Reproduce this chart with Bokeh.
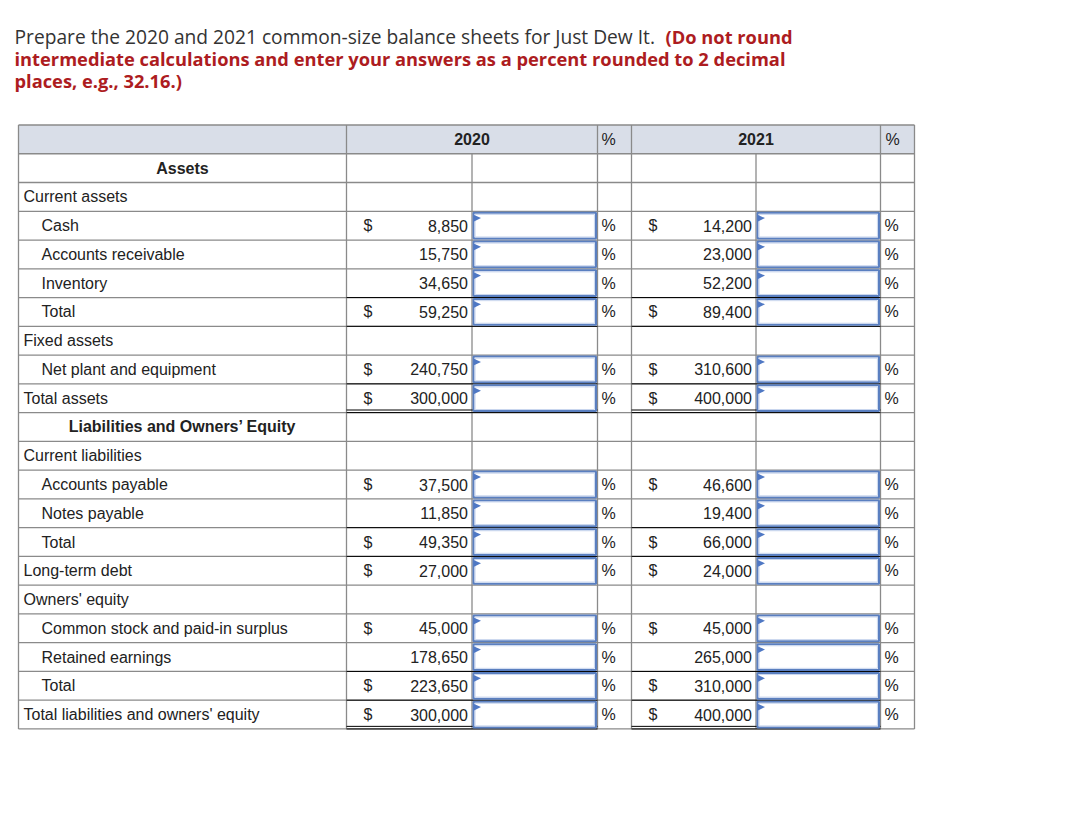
from bokeh.plotting import figure
from bokeh.models import Range1d
from bokeh.core.properties import value
from bokeh.embed import file_html
from bokeh.resources import INLINE

# ---------------- data ----------------
title_regular = "Prepare the 2020 and 2021 common-size balance sheets for Just Dew It."
title_bold = ["(Do not round",
              "intermediate calculations and enter your answers as a percent rounded to 2 decimal",
              "places, e.g., 32.16.)"]

year_headers = ["2020", "2021"]
pct_header = "%"

labels = ["Assets", "Current assets", "Cash", "Accounts receivable", "Inventory", "Total",
          "Fixed assets", "Net plant and equipment", "Total assets",
          "Liabilities and Owners\u2019 Equity", "Current liabilities", "Accounts payable",
          "Notes payable", "Total", "Long-term debt", "Owners' equity",
          "Common stock and paid-in surplus", "Retained earnings", "Total",
          "Total liabilities and owners' equity"]
indent = [None, 0, 1, 1, 1, 1, 0, 1, 0, None, 0, 1, 1, 1, 0, 0, 1, 1, 1, 0]

vals_2020 = [None, None, 8850, 15750, 34650, 59250, None, 240750, 300000, None, None,
             37500, 11850, 49350, 27000, None, 45000, 178650, 223650, 300000]
vals_2021 = [None, None, 14200, 23000, 52200, 89400, None, 310600, 400000, None, None,
             46600, 19400, 66000, 24000, None, 45000, 265000, 310000, 400000]
dollar = [False, False, True, False, False, True, False, True, True, False, False,
          True, False, True, True, False, True, False, True, True]

black_top = [5, 8, 13, 14, 18, 19, 6]      # rows whose top border is black
double_bottom = [8, 19]                    # rows with a double rule underneath

# ---------------- layout ----------------
W, H = 1074, 810

p = figure(width=W, height=H, output_backend="svg", toolbar_location=None,
           x_range=Range1d(0, W), y_range=Range1d(H, 0),
           x_axis_type=None, y_axis_type=None, min_border=0)
p.outline_line_color = None
p.grid.visible = False
p.background_fill_color = "white"
p.border_fill_color = "white"

TEXT_FONT = value("Liberation Sans")
TITLE_FONT = value("Open Sans")

# column boundaries
c_left, c_lab, c_v1, c_in1, c_p1, c_v2, c_in2, c_p2, c_right = 18, 346, 346, 471.5, 597, 631, 755.5, 880, 914
top0, rh = 124.5, 28.76
n_rows = len(labels) + 1


def rtop(r):
    return top0 + r * rh


GRAY = "#8a8a8a"
TXT = "#222222"

# header background
p.quad(left=[c_left], right=[c_right], top=[rtop(0)], bottom=[rtop(1)],
       fill_color="#d9dee8", line_color=None)

# horizontal gray rules
hx0, hx1, hy = [], [], []
for r in range(n_rows + 1):
    hx0.append(c_left); hx1.append(c_right); hy.append(rtop(r))
p.segment(x0=hx0, y0=hy, x1=hx1, y1=hy, line_color=GRAY, line_width=1.3)

# vertical rules
vx, vy0, vy1 = [], [], []
for x in [c_left, c_lab, c_p1, c_v2, c_p2, c_right]:
    vx.append(x); vy0.append(rtop(0)); vy1.append(rtop(n_rows))
for x in [c_in1, c_in2]:
    vx.append(x); vy0.append(rtop(1)); vy1.append(rtop(n_rows))
p.segment(x0=vx, y0=vy0, x1=vx, y1=vy1, line_color=GRAY, line_width=1.3)

# black emphasis rules
bx0, bx1, by = [], [], []
for i in black_top:
    y = rtop(i + 1)
    for a, b in [(c_v1, c_p1), (c_v2, c_p2)]:
        bx0.append(a); bx1.append(b); by.append(y)
for i in double_bottom:
    y = rtop(i + 2)
    for a, b in [(c_v1, c_p1), (c_v2, c_p2)]:
        for dy in (-2.6, 0):
            bx0.append(a); bx1.append(b); by.append(y + dy)
p.segment(x0=bx0, y0=by, x1=bx1, y1=by, line_color="black", line_width=1)

# input boxes + flags
bl, br, bt, bb = [], [], [], []
tri_x, tri_y = [], []
for i, v in enumerate(vals_2020):
    if v is None:
        continue
    t = rtop(i + 1)
    for a, b in [(c_in1, c_p1), (c_in2, c_p2)]:
        bl.append(a + 1.5); br.append(b - 1.5); bt.append(t + 1.5); bb.append(t + rh - 1.5)
        tri_x.append([a + 1.5, a + 9, a + 1.5])
        tri_y.append([t + 3.5, t + 6.8, t + 10.5])
p.quad(left=bl, right=br, top=bt, bottom=bb, fill_color="white",
       line_color="#5a7fc0", line_width=2)
p.quad(left=[v + 1.6 for v in bl], right=[v - 1.6 for v in br],
       top=[v + 1.6 for v in bt], bottom=[v - 1.6 for v in bb],
       fill_color=None, line_color="#c9d6ee", line_width=1)
p.patches(xs=tri_x, ys=tri_y, fill_color="#4f78c4", line_color=None)

# ---------------- texts ----------------
# title
p.text(x=[14], y=[35.5], text=[title_regular], text_font=TITLE_FONT, text_font_size="19.2px",
       text_color="#333333", text_baseline="alphabetic")
p.text(x=[665, 14, 14], y=[35.5, 57.5, 79.5], text=title_bold, text_font=TITLE_FONT,
       text_font_size="18.3px", text_font_style="bold", text_color="#ad1c21",
       text_baseline="alphabetic")

# header row
hmid = rtop(0) + rh / 2
p.text(x=[(c_v1 + c_p1) / 2, (c_v2 + c_p2) / 2], y=[hmid, hmid], text=year_headers,
       text_font=TEXT_FONT, text_font_size="16px", text_font_style="bold",
       text_color=TXT, text_align="center", text_baseline="middle")
p.text(x=[c_p1 + 4, c_p2 + 5], y=[hmid, hmid], text=[pct_header, pct_header],
       text_font=TEXT_FONT, text_font_size="16px", text_color=TXT, text_baseline="middle")

# labels
lx, ly, lt = [], [], []
hx, hyy, ht = [], [], []
for i, lab in enumerate(labels):
    mid = rtop(i + 1) + rh / 2
    if indent[i] is None:
        hx.append((c_left + c_lab) / 2); hyy.append(mid); ht.append(lab)
    else:
        lx.append(c_left + 5 + 18 * indent[i]); ly.append(mid); lt.append(lab)
p.text(x=lx, y=ly, text=lt, text_font=TEXT_FONT, text_font_size="16px",
       text_color=TXT, text_baseline="middle")
p.text(x=hx, y=hyy, text=ht, text_font=TEXT_FONT, text_font_size="16px",
       text_font_style="bold", text_color=TXT, text_align="center", text_baseline="middle")

# values, $ signs and %
vx_, vy_, vt_ = [], [], []
dx_, dy_ = [], []
px_, py_ = [], []
for vals, cv, cin, cp in [(vals_2020, c_v1, c_in1, c_p1), (vals_2021, c_v2, c_in2, c_p2)]:
    for i, v in enumerate(vals):
        if v is None:
            continue
        mid = rtop(i + 1) + rh / 2
        vx_.append(cin - 4); vy_.append(mid); vt_.append(f"{v:,}")
        if dollar[i]:
            dx_.append(cv + 17); dy_.append(mid)
        px_.append(cp + 4); py_.append(mid)
p.text(x=vx_, y=vy_, text=vt_, text_font=TEXT_FONT, text_font_size="16px",
       text_color=TXT, text_align="right", text_baseline="middle")
p.text(x=dx_, y=dy_, text=["$"] * len(dx_), text_font=TEXT_FONT, text_font_size="16px",
       text_color=TXT, text_baseline="middle")
p.text(x=px_, y=py_, text=["%"] * len(px_), text_font=TEXT_FONT, text_font_size="16px",
       text_color=TXT, text_baseline="middle")

open("out.html", "w").write(file_html(p, INLINE))
